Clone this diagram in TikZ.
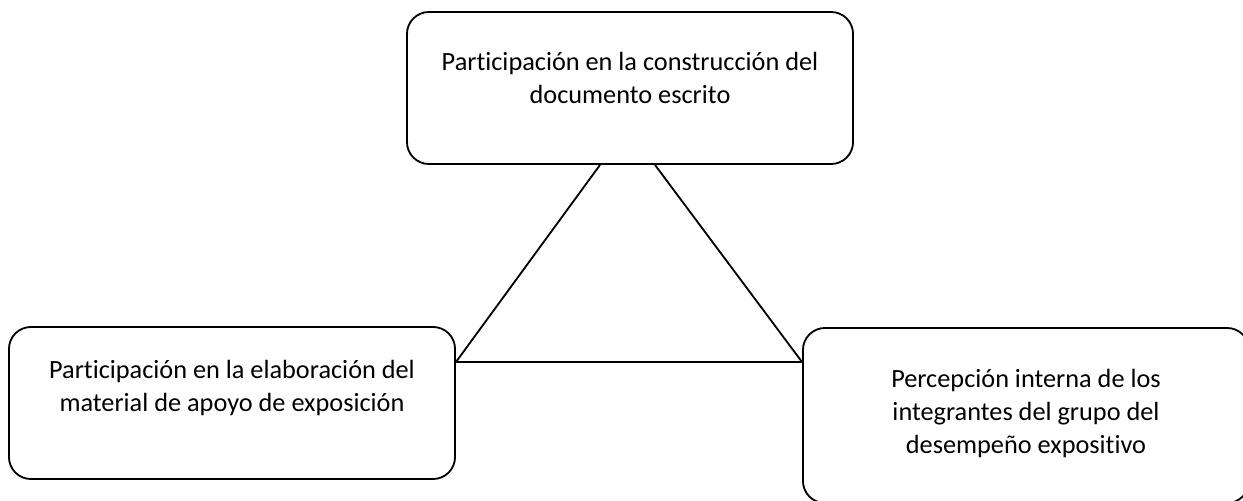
\documentclass[tikz,border=0pt]{standalone}
\usepackage{fontspec}
\setmainfont{Carlito}[Ligatures={NoCommon}]
\usepackage{tikz}
\usetikzlibrary{positioning, calc}

\tikzset{
    textbox/.style={draw=black, line width=1.3pt, rounded corners=0.55cm,
        minimum width=11.15cm, minimum height=3.8cm},
    boxtext/.style={align=center, inner sep=0pt,
        font=\fontsize{18.7}{23.5}\selectfont},
    edge/.style={black, line width=1.3pt}
}

\begin{document}
\begin{tikzpicture}[x=0.025cm, y=-0.025cm]
            \useasboundingbox (0,0) rectangle (1243,500);

            % boxes
            \node[textbox] (escrito) at (630,88) {};
            \node[textbox] (material) at (232,403) {};
            \node[textbox, minimum height=4.375cm] (percepcion) at (1026,415.5) {};

            % texts
            \node[boxtext] (escrito-txt) at ($(escrito.center)+(0,-10)$)
                {Participación en la construcción del\\documento escrito};
            \node[boxtext] (material-txt) at ($(material.center)+(0,-15)$)
                {Participación en la elaboración del\\material de apoyo de exposición};
            \node[boxtext] (percepcion-txt) at ($(percepcion.center)+(0,-2)$)
                {Percepción interna de los\\integrantes del grupo del\\desempeño expositivo};

            % corners of the triangle
            \coordinate (T1) at ($(escrito.south)+(-30,0)$);
            \coordinate (T2) at ($(escrito.south)+(25,0)$);
            \coordinate (L) at ($(material.east)+(0,-41)$);
            \coordinate (R) at ($(percepcion.west)+(0,-53.5)$);

            \draw[edge]
                (T1) -- (L) -- (R) -- (T2);
        \end{tikzpicture}
\end{document}
